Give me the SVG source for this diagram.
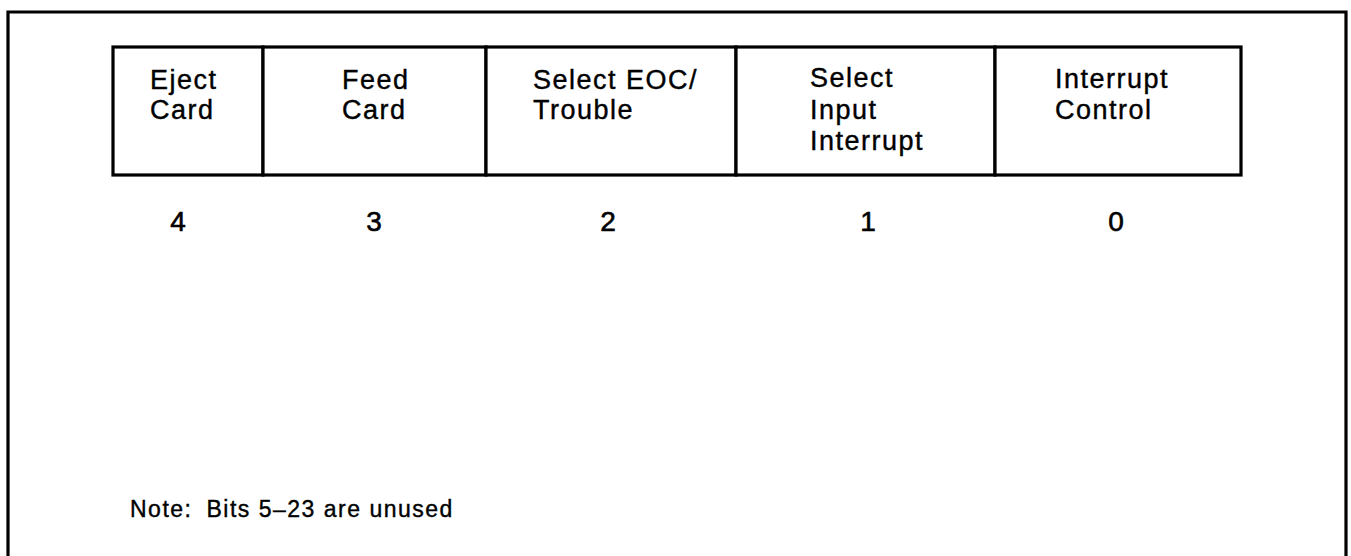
<svg xmlns="http://www.w3.org/2000/svg" width="1351" height="556" viewBox="0 0 1351 556">
  <style>
    .frame { fill: none; stroke: #000; stroke-width: 3.2; }
    .cell { fill: #fff; stroke: #000; stroke-width: 3.2; }
    .lbl { font-family: "Liberation Sans", Arial, sans-serif; font-size: 27px; letter-spacing: 1.5px; fill: #000; stroke: #000; stroke-width: 0.4px; }
    .num { font-family: "Liberation Sans", Arial, sans-serif; font-size: 28px; fill: #000; stroke: #000; stroke-width: 0.6px; text-anchor: middle; }
    .note { font-family: "Liberation Sans", Arial, sans-serif; font-size: 23px; letter-spacing: 1.5px; fill: #000; stroke: #000; stroke-width: 0.4px; }
  </style>
  <rect x="0" y="0" width="1351" height="556" fill="#fff"/>
  <path class="frame" d="M8,560 L8,12 L1346,12 L1346,560"/>
  <g id="bit4">
    <rect class="cell" x="113" y="47" width="150" height="128"/>
    <text class="lbl" x="150" y="89">Eject</text>
    <text class="lbl" x="150" y="119">Card</text>
    <text class="num" x="178" y="231">4</text>
  </g>
  <g id="bit3">
    <rect class="cell" x="263" y="47" width="223" height="128"/>
    <text class="lbl" x="342" y="89">Feed</text>
    <text class="lbl" x="342" y="119">Card</text>
    <text class="num" x="374" y="231">3</text>
  </g>
  <g id="bit2">
    <rect class="cell" x="486" y="47" width="250" height="128"/>
    <text class="lbl" x="533" y="89">Select EOC/</text>
    <text class="lbl" x="533" y="119">Trouble</text>
    <text class="num" x="608" y="231">2</text>
  </g>
  <g id="bit1">
    <rect class="cell" x="736" y="47" width="259" height="128"/>
    <text class="lbl" x="810" y="87">Select</text>
    <text class="lbl" x="810" y="119">Input</text>
    <text class="lbl" x="810" y="150">Interrupt</text>
    <text class="num" x="868" y="231">1</text>
  </g>
  <g id="bit0">
    <rect class="cell" x="995" y="47" width="246" height="128"/>
    <text class="lbl" x="1055" y="88">Interrupt</text>
    <text class="lbl" x="1055" y="119">Control</text>
    <text class="num" x="1116" y="231">0</text>
  </g>
  <g id="connectors"></g>
  <g id="note">
    <text class="note" x="130" y="517">Note:<tspan dx="14">Bits 5–23 are unused</tspan></text>
  </g>
</svg>
